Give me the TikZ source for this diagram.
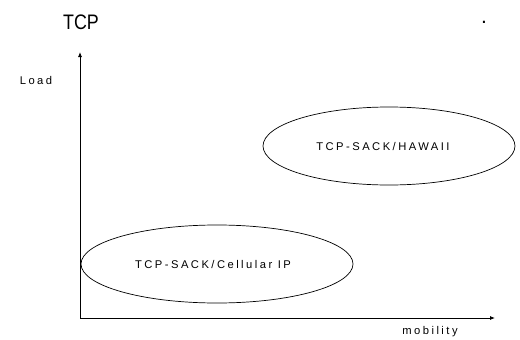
\documentclass[tikz,border=0pt]{standalone}
\usepackage{fontspec}
\setmainfont{Liberation Sans}
\newfontfamily\spaced[LetterSpace=22]{Liberation Sans}
\usetikzlibrary{arrows.meta}
\begin{document}
\begin{tikzpicture}[x=1pt,y=-1pt,
  axis/.style={line width=0.8pt,-{Latex[length=5pt,width=4pt]}},
  blob/.style={draw,ellipse,line width=0.7pt},
  lbl/.style={font=\fontsize{11.2}{13}\selectfont\spaced,inner sep=0pt}]
\useasboundingbox (0,0) rectangle (520,340);
\node[font=\fontsize{21}{24}\selectfont,inner sep=0pt] (title) at (81,22) {\addfontfeatures{FakeStretch=0.85}TCP};
\node[font=\fontsize{21}{24}\selectfont,inner sep=0pt] (dot) at (484,22) {.};
\coordinate (o) at (80,318);
\coordinate (ytop) at (80,52);
\coordinate (xend) at (495,318);
\draw[axis] (o) -- (ytop);
\draw[axis] (o) -- (xend);
\node[lbl] (load) at (36,80) {Load};
\node[lbl] (mob) at (430,332) {mobility};
\draw[line width=0.7pt] (389,146) ellipse [x radius=126, y radius=39];
\node[lbl] (hawaii) at (383,146) {TCP-SACK/HAWAII};
\draw[line width=0.7pt] (217,264) ellipse [x radius=136, y radius=39];
\node[lbl] (cip) at (213,264) {TCP-SACK/Cellular IP};
\end{tikzpicture}
\end{document}
